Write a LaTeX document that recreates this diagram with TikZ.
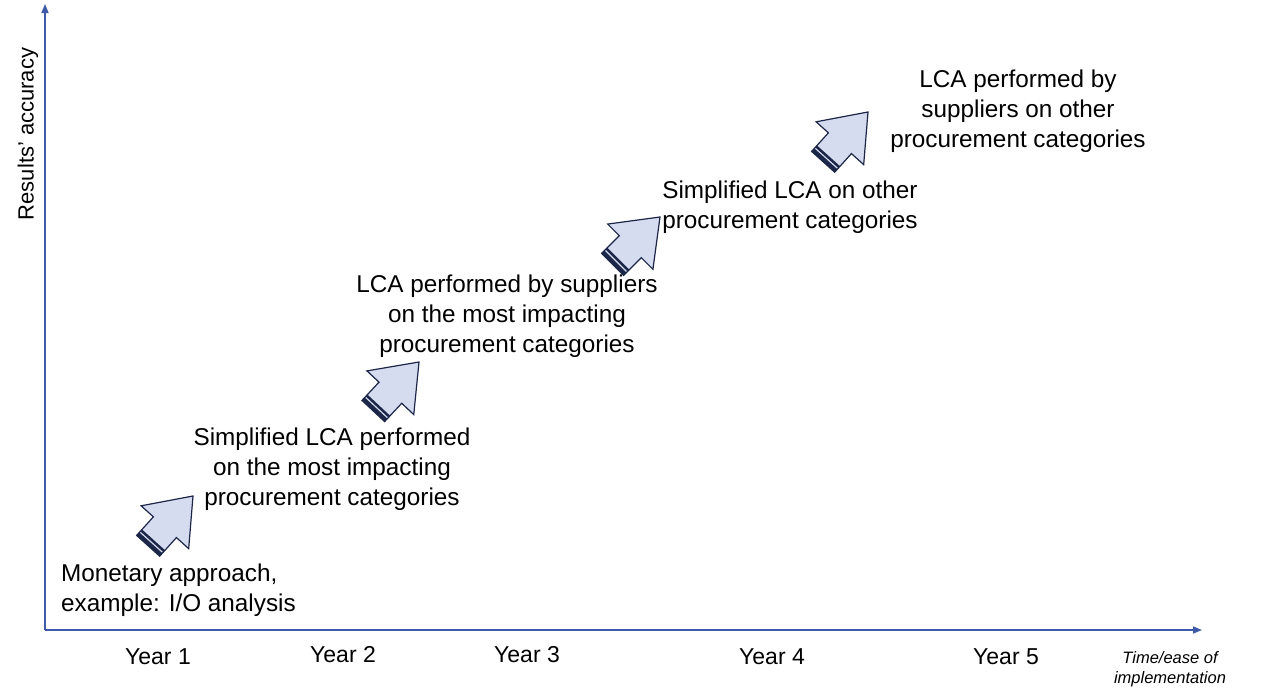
\documentclass[tikz,border=0pt]{standalone}
\usepackage{fontspec}
\setmainfont{Liberation Sans}
\usetikzlibrary{arrows.meta}
\definecolor{axisblue}{RGB}{63,90,168}
\definecolor{arrowfill}{RGB}{214,220,240}
\definecolor{arrowdark}{RGB}{27,38,72}
\tikzset{
  axisline/.style={draw=axisblue, line width=1.5pt, -{Triangle[length=9pt,width=7pt]}},
  maintext/.style={inner sep=0pt, font=\fontsize{24.3}{30}\selectfont},
  yeartext/.style={inner sep=0pt, font=\fontsize{23}{26}\selectfont},
  blockarrow/.pic={
    \fill[arrowfill] (-67,-15.5) -- (-42,-15.5) -- (-42,-32) -- (0,0) -- (-42,32) -- (-42,15.5) -- (-67,15.5) -- cycle;
    \fill[arrowdark] (-67,-15.5) rectangle (-63,15.5);
    \fill[arrowdark] (-61.5,-15.5) rectangle (-59,15.5);
    \draw[arrowdark, line width=1.2pt, line join=miter] (-67,-15.5) -- (-42,-15.5) -- (-42,-32) -- (0,0) -- (-42,32) -- (-42,15.5) -- (-67,15.5) -- cycle;
  }
}
\begin{document}
\begin{tikzpicture}[x=1pt,y=-1pt]
\useasboundingbox (0,0) rectangle (1261,688);
% axes
\coordinate (O) at (45,630);
\coordinate (ytop) at (45,4);
\coordinate (xend) at (1202,630);
\draw[axisline] (O) -- (ytop);
\draw[axisline] (O) -- (xend);
\node[rotate=90, inner sep=0pt, font=\fontsize{22}{24}\selectfont] (ylab) at (28,134) {Results’ accuracy};
\node[inner sep=0pt, align=center, font=\itshape\fontsize{16.5}{20}\selectfont] (xlab) at (1170,669) {Time/ease of\\implementation};
% years
\node[yeartext] (y1) at (158,657) {Year 1};
\node[yeartext] (y2) at (343,655) {Year 2};
\node[yeartext] (y3) at (527,655) {Year 3};
\node[yeartext] (y4) at (772,657) {Year 4};
\node[yeartext] (y5) at (1006,657) {Year 5};
% step texts
\node[maintext, anchor=west, align=left] (t1) at (61,590) {Monetary approach,\\example: I/O analysis};
\node[maintext, align=center] (t2) at (332,469) {Simplified LCA performed\\on the most impacting\\procurement categories};
\node[maintext, align=center] (t3) at (507,316) {LCA performed by suppliers\\on the most impacting\\procurement categories};
\node[maintext, align=center] (t4) at (790,207) {Simplified LCA on other\\procurement categories};
\node[maintext, align=center] (t5) at (1018,111) {LCA performed by\\suppliers on other\\procurement categories};
% block arrows
\pic[rotate=48] (a1) at (193,496) {blockarrow};
\pic[rotate=47] (a2) at (419,362) {blockarrow};
\pic[rotate=45] (a3) at (660,217) {blockarrow};
\pic[rotate=48] (a4) at (868,112) {blockarrow};
\end{tikzpicture}
\end{document}
